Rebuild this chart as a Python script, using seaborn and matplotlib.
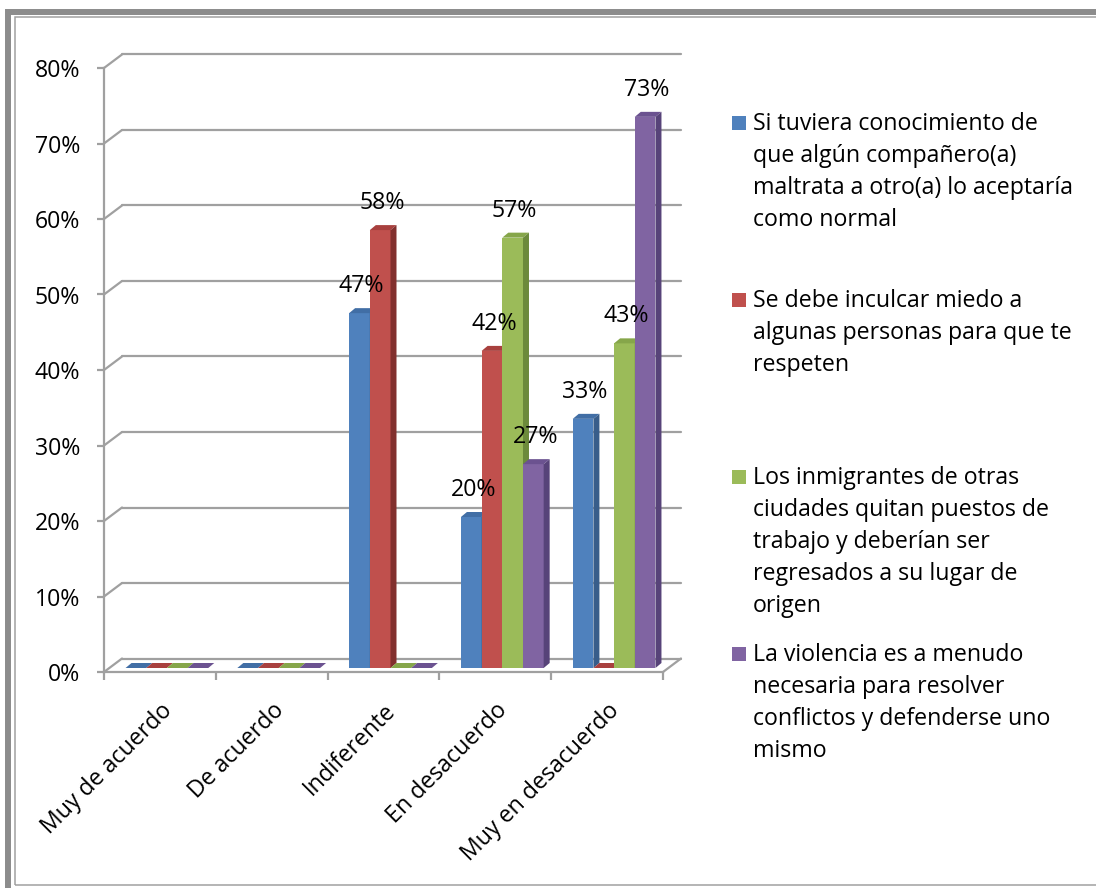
import numpy as np
import pandas as pd
import matplotlib
matplotlib.use("Agg")
import matplotlib.pyplot as plt
import seaborn as sns
from matplotlib.patches import Rectangle, Polygon
from matplotlib.transforms import ScaledTranslation

# ---- data -------------------------------------------------------------
categories = ["Muy de acuerdo", "De acuerdo", "Indiferente",
              "En desacuerdo", "Muy en desacuerdo"]
series = [
    "Si tuviera conocimiento de\nque algún compañero(a)\nmaltrata a otro(a) lo aceptaría\ncomo normal",
    "Se debe inculcar miedo a\nalgunas personas para que te\nrespeten",
    "Los inmigrantes de otras\nciudades quitan puestos de\ntrabajo y deberían ser\nregresados a su lugar de\norigen",
    "La violencia es a menudo\nnecesaria para resolver\nconflictos y defenderse uno\nmismo",
]
conocimiento = [0.00, 0.00, 0.47, 0.20, 0.33]
miedo = [0.00, 0.00, 0.58, 0.42, 0.00]
inmigrantes = [0.00, 0.00, 0.00, 0.57, 0.43]
violencia = [0.00, 0.00, 0.00, 0.27, 0.73]
y_ticks = [0.0, 0.1, 0.2, 0.3, 0.4, 0.5, 0.6, 0.7, 0.8]
y_tick_labels = ["0%", "10%", "20%", "30%", "40%", "50%", "60%", "70%", "80%"]

# ---- style ------------------------------------------------------------
front_colors = ["#4F81BD", "#C0504D", "#9BBB59", "#8064A2"]
side_colors = ["#385D8A", "#82302E", "#6C8A3B", "#574379"]
top_colors = ["#416EA5", "#A8403E", "#86A64A", "#6B5290"]
grid_color = "#A0A0A0"
FONT = 16.7

sns.set_theme(style="white")
plt.rcParams["font.family"] = ["Open Sans", "DejaVu Sans"]

W, H = 1096, 888
fig = plt.figure(figsize=(W / 100, H / 100), dpi=100)


def fx(px):
    return px / W


def fy(py):
    return 1 - py / H


# front plane of the plot box (pixels)
L, R, T, B = 104, 663, 68, 672
ax = fig.add_axes([fx(L), fy(B), (R - L) / W, (B - T) / H])

df = pd.DataFrame({
    "categoria": categories * 4,
    "serie": np.repeat(np.arange(4), len(categories)),
    "valor": conocimiento + miedo + inmigrantes + violencia,
})
sns.barplot(data=df, x="categoria", y="valor", hue="serie", order=categories,
            hue_order=[0, 1, 2, 3], palette=front_colors, width=0.74,
            saturation=1, errorbar=None, legend=False, linewidth=0, ax=ax)
ax.set_xlim(-0.5, 4.5)
ax.set_ylim(0, 0.8)

# pixel -> data scale of the axes
px_x = (R - L) / 5.0
px_y = (B - T) / 0.8
# depth offsets: bars sit inside the box, the grid on the back wall
BAR_DX, BAR_DY = 7, 4
BACK_DX, BACK_DY = 18 / px_x, 13.5 / px_y
DEPTH_X, DEPTH_Y = 6 / px_x, 5 / px_y

bar_tr = ax.transData + ScaledTranslation(BAR_DX / 100, BAR_DY / 100,
                                          fig.dpi_scale_trans)
label_tr = ax.transData + ScaledTranslation((BAR_DX + 2) / 100,
                                            (BAR_DY + 27) / 100,
                                            fig.dpi_scale_trans)

for k, cont in enumerate(ax.containers):
    for p in cont.patches:
        x0, w, h = p.get_x(), p.get_width(), p.get_height()
        z = 3 + (x0 + 0.5) * 0.5
        p.set_transform(bar_tr)
        p.set_zorder(z)
        top = Polygon([(x0, h), (x0 + DEPTH_X, h + DEPTH_Y),
                       (x0 + w + DEPTH_X, h + DEPTH_Y), (x0 + w, h)],
                      closed=True, facecolor=top_colors[k], edgecolor="none",
                      transform=bar_tr, zorder=z)
        ax.add_patch(top)
        if h > 0:
            side = Polygon([(x0 + w, 0), (x0 + w + DEPTH_X, DEPTH_Y),
                            (x0 + w + DEPTH_X, h + DEPTH_Y), (x0 + w, h)],
                           closed=True, facecolor=side_colors[k],
                           edgecolor="none", transform=bar_tr, zorder=z)
            ax.add_patch(side)
            ax.text(x0 + w / 2, h, f"{round(h * 100)}%", transform=label_tr,
                    ha="center", va="center", fontsize=FONT, color="black",
                    zorder=20)

# back wall gridlines and their connectors to the front axis
for v in y_ticks:
    ax.plot([-0.5 + BACK_DX, 4.5 + BACK_DX], [v + BACK_DY, v + BACK_DY],
            color=grid_color, lw=1.6, zorder=1, clip_on=False)
    ax.plot([-0.5, -0.5 + BACK_DX], [v, v + BACK_DY],
            color=grid_color, lw=1.6, zorder=1, clip_on=False)
ax.plot([4.5, 4.5 + BACK_DX], [0, BACK_DY], color=grid_color, lw=1.6,
        zorder=1, clip_on=False)

# axes
for s in ["top", "right"]:
    ax.spines[s].set_visible(False)
for s in ["left", "bottom"]:
    ax.spines[s].set_color(grid_color)
    ax.spines[s].set_linewidth(1.6)
ax.set_yticks(y_ticks)
ax.set_yticklabels(y_tick_labels)
ax.tick_params(axis="y", direction="out", length=5, width=1.6,
               color=grid_color, pad=12, labelsize=FONT, labelcolor="black",
               left=True)
ax.set_xticks(range(len(categories)))
ax.set_xticks(np.arange(-0.5, 5.0, 1.0), minor=True)
ax.set_xticklabels(categories, rotation=45, ha="right",
                   rotation_mode="anchor")
ax.tick_params(axis="x", which="major", length=0, pad=19, labelsize=FONT,
               labelcolor="black")
ax.tick_params(axis="x", which="minor", direction="out", length=6,
               width=1.6, color=grid_color, bottom=True)
ax.set_xlabel("")
ax.set_ylabel("")
ax.patch.set_alpha(0)

# legend on the right
LEG_X, LEG_Y0, LEG_STEP, LINE = 753, 130, 177, 32
for k, name in enumerate(series):
    base = LEG_Y0 + k * LEG_STEP
    fig.patches.append(Rectangle((fx(732), fy(base)), 14 / W, 14 / H,
                                 facecolor=front_colors[k], edgecolor="none",
                                 transform=fig.transFigure))
    for j, line in enumerate(name.split("\n")):
        fig.text(fx(LEG_X), fy(base + j * LINE), line, ha="left",
                 va="baseline", fontsize=FONT, color="black")

# double frame round the chart
fig.patches.append(Rectangle((fx(8), fy(892)), (1110 - 8) / W, (892 - 12.5) / H,
                             fill=False, edgecolor="#8C8C8C", lw=4.3,
                             transform=fig.transFigure))
fig.patches.append(Rectangle((fx(14.5), fy(885)), (1110 - 14.5) / W,
                             (885 - 17.5) / H, fill=False,
                             edgecolor="#A0A0A0", lw=1.1,
                             transform=fig.transFigure))

fig.savefig("out.png", dpi=100)
